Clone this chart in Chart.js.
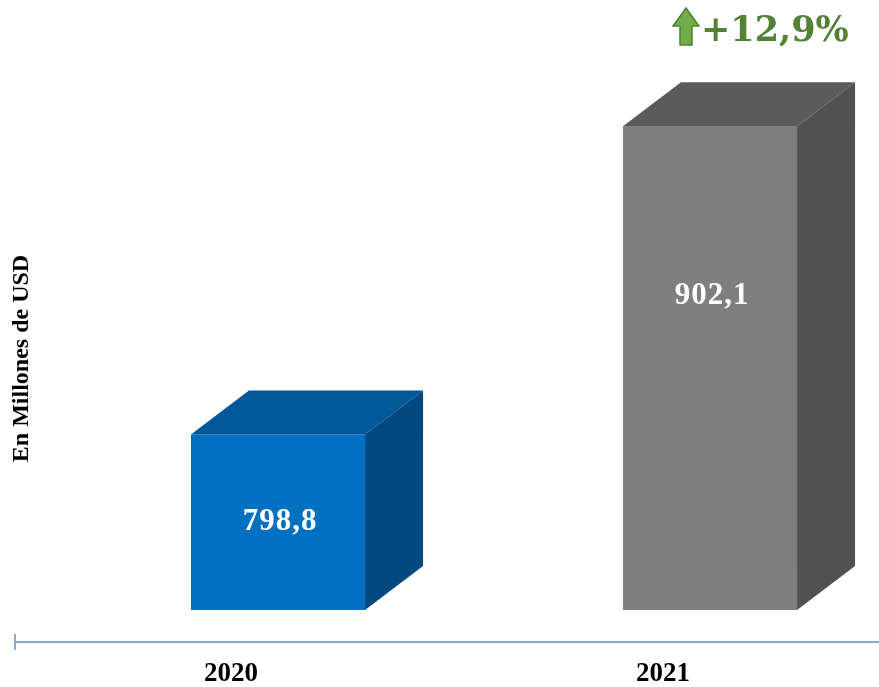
<!DOCTYPE html>
<html>
<head>
<meta charset="utf-8">
<script src="https://cdn.jsdelivr.net/npm/chart.js@4.4.0/dist/chart.umd.min.js"></script>
<style>
  html, body { margin: 0; padding: 0; background: #fff; }
  #wrap { width: 879px; height: 687px; position: relative; }
</style>
</head>
<body>
<div id="wrap"><canvas id="chart"></canvas></div>
<script>
const years = ['2020', '2021'];
const values = [798.8, 902.1];
const frontColors = ['#0070C0', '#7F7F7F'];
const topColors = ['#00589A', '#5B5B5B'];
const sideColors = ['#004A80', '#515151'];
const yMin = 740;
const yMax = 940;
const yTitle = 'En Millones de USD';
const growthLabel = '+12,9%';

const serif = 'Liberation Serif';

// caja 3D dibujada a partir de los elementos de barra de Chart.js
const cube3d = {
  id: 'cube3d',
  afterDatasetsDraw(chart, args, opts) {
    const ctx = chart.ctx;
    const meta = chart.getDatasetMeta(0);
    const floor = chart.scales.y.getPixelForValue(yMin);
    ctx.save();
    meta.data.forEach((bar, i) => {
      const w = bar.width;
      const x0 = bar.x - w / 2 + opts.shift;
      const x1 = x0 + w;
      const top = bar.y;
      const bottom = Math.min(bar.base, floor);
      const dx = opts.dx, dy = opts.dy;

      ctx.fillStyle = frontColors[i];
      ctx.fillRect(x0, top, w, bottom - top);

      ctx.fillStyle = topColors[i];
      ctx.beginPath();
      ctx.moveTo(x0, top);
      ctx.lineTo(x0 + dx, top - dy);
      ctx.lineTo(x1 + dx, top - dy);
      ctx.lineTo(x1, top);
      ctx.closePath();
      ctx.fill();

      ctx.fillStyle = sideColors[i];
      ctx.beginPath();
      ctx.moveTo(x1, top);
      ctx.lineTo(x1 + dx, top - dy);
      ctx.lineTo(x1 + dx, bottom - dy);
      ctx.lineTo(x1, bottom);
      ctx.closePath();
      ctx.fill();

      // etiqueta del valor
      const label = values[i].toFixed(1).replace('.', ',');
      ctx.fillStyle = '#ffffff';
      ctx.font = 'bold 31px "' + serif + '"';
      ctx.letterSpacing = '1px';
      ctx.textAlign = 'center';
      ctx.textBaseline = 'middle';
      ctx.fillText(label, x0 + w / 2 + 2, top + (bottom - top) * opts.labelFrac[i]);
    });
    ctx.restore();
  }
};

// eje, título vertical y variación
const extras = {
  id: 'extras',
  afterDraw(chart, args, opts) {
    const ctx = chart.ctx;
    const area = chart.chartArea;
    ctx.save();

    const axisY = area.bottom + opts.axisGap;
    ctx.strokeStyle = '#8AA6DA';
    ctx.lineWidth = 2;
    ctx.beginPath();
    ctx.moveTo(area.left, axisY);
    ctx.lineTo(area.right, axisY);
    ctx.moveTo(area.left, axisY - 8);
    ctx.lineTo(area.left, axisY + 8);
    ctx.stroke();

    ctx.translate(22, (area.top + area.bottom) / 2 + 47);
    ctx.rotate(-Math.PI / 2);
    ctx.fillStyle = '#000';
    ctx.font = 'bold 24px "' + serif + '"';
    ctx.textAlign = 'center';
    ctx.textBaseline = 'middle';
    ctx.fillText(yTitle, 0, 0);
    ctx.setTransform(1, 0, 0, 1, 0, 0);

    // flecha verde
    const ax = 686, ay = 8;
    ctx.fillStyle = '#70AD47';
    ctx.strokeStyle = '#507E32';
    ctx.lineWidth = 1.5;
    ctx.beginPath();
    ctx.moveTo(ax, ay);
    ctx.lineTo(ax + 13, ay + 18);
    ctx.lineTo(ax + 6, ay + 18);
    ctx.lineTo(ax + 6, ay + 37);
    ctx.lineTo(ax - 6, ay + 37);
    ctx.lineTo(ax - 6, ay + 18);
    ctx.lineTo(ax - 13, ay + 18);
    ctx.closePath();
    ctx.fill();
    ctx.stroke();

    ctx.fillStyle = '#548235';
    ctx.font = 'bold 35px "DejaVu Serif"';
    ctx.textAlign = 'left';
    ctx.textBaseline = 'alphabetic';
    ctx.fillText(growthLabel, 701, 41);
    ctx.restore();
  }
};

new Chart(document.getElementById('chart'), {
  type: 'bar',
  data: {
    labels: years,
    datasets: [{
      data: values,
      backgroundColor: 'rgba(0,0,0,0)',
      barPercentage: 0.403,
      categoryPercentage: 1
    }]
  },
  options: {
    responsive: true,
    maintainAspectRatio: false,
    animation: false,
    layout: { padding: { top: 13, left: 15, right: 0, bottom: 0 } },
    scales: {
      x: {
        grid: { display: false, drawTicks: false },
        border: { display: false },
        ticks: {
          color: '#000',
          font: { family: serif, size: 27, weight: 'bold' },
          padding: 48
        },
        afterFit(scale) { scale.height = 77; }
      },
      y: { display: false, min: yMin, max: yMax }
    },
    plugins: {
      legend: { display: false },
      tooltip: { enabled: false },
      cube3d: { shift: 47, dx: 58, dy: 44, labelFrac: [0.5, 0.35] },
      extras: { axisGap: 32 }
    }
  },
  plugins: [cube3d, extras]
});
</script>
</body>
</html>
